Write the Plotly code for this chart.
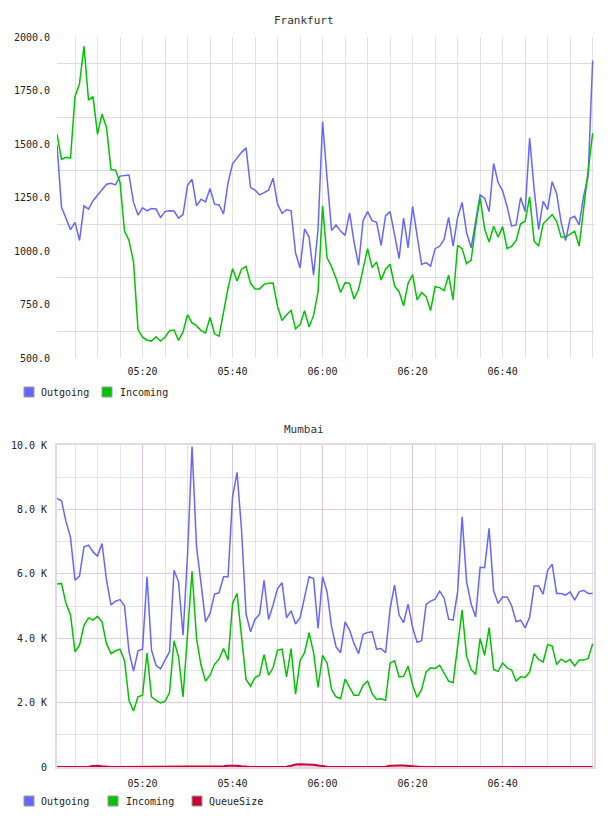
import pandas as pd
import plotly.graph_objects as go

# ---------------- data ----------------
DAY = "2013-01-01"
START = DAY + " 05:01:00"
N_POINTS = 120
times = pd.date_range(START, periods=N_POINTS, freq="1min")
time_tick_labels = ["05:20", "05:40", "06:00", "06:20", "06:40"]

fra_outgoing = [
    1497, 1204, 1153, 1100, 1134, 1049, 1211, 1196, 1235, 1261,
    1284, 1312, 1316, 1309, 1350, 1353, 1355, 1227, 1168, 1202,
    1188, 1199, 1196, 1157, 1184, 1188, 1187, 1154, 1170, 1307,
    1335, 1211, 1242, 1230, 1292, 1219, 1215, 1173, 1320, 1407,
    1435, 1461, 1482, 1296, 1284, 1262, 1273, 1284, 1340, 1219,
    1176, 1193, 1188, 991, 921, 1103, 1065, 887, 1103, 1605,
    1340, 1096, 1122, 1093, 1073, 1178, 1042, 934, 1142, 1184,
    1142, 1134, 1026, 1165, 1184, 1073, 965, 1154, 1015, 1208,
    1073, 937, 946, 929, 1011, 1022, 1054, 1157, 1023, 1157,
    1227, 1085, 1015, 1142, 1262, 1247, 1184, 1409, 1320, 1281,
    1207, 1116, 1122, 1250, 1184, 1528, 1289, 1100, 1232, 1193,
    1324, 1269, 1134, 1049, 1153, 1162, 1122, 1258, 1350, 1890,
]
fra_incoming = [
    1546, 1428, 1438, 1434, 1721, 1782, 1957, 1705, 1721, 1546,
    1640, 1577, 1381, 1378, 1320, 1093, 1049, 949, 633, 597,
    583, 579, 599, 579, 597, 628, 631, 582, 622, 702,
    664, 651, 628, 617, 690, 613, 602, 718, 826, 918,
    860, 915, 928, 849, 823, 823, 844, 849, 850, 741,
    675, 702, 722, 636, 656, 721, 645, 699, 810, 1211,
    968, 926, 872, 806, 852, 849, 776, 821, 911, 1011,
    923, 949, 864, 915, 938, 836, 810, 744, 849, 890,
    772, 806, 787, 722, 833, 829, 815, 887, 772, 1026,
    1011, 941, 957, 1119, 1250, 1103, 1042, 1116, 1065, 1114,
    1011, 1022, 1049, 1127, 1139, 1253, 1046, 1023, 1127, 1147,
    1170, 1139, 1065, 1065, 1077, 1093, 1023, 1196, 1381, 1551,
]

# Mumbai values in thousands
mum_outgoing_k = [
    8.34, 8.27, 7.62, 7.13, 5.80, 5.93, 6.84, 6.89, 6.68, 6.55,
    6.94, 5.80, 5.03, 5.15, 5.20, 5.01, 3.58, 2.98, 3.61, 3.66,
    5.91, 3.63, 3.16, 3.05, 3.32, 3.58, 6.11, 5.75, 4.09, 6.60,
    9.95, 6.84, 5.70, 4.51, 4.77, 5.37, 5.41, 5.91, 5.91, 8.39,
    9.15, 7.36, 4.75, 4.20, 4.59, 4.74, 5.80, 4.58, 5.03, 5.54,
    5.72, 4.63, 4.85, 4.44, 4.63, 5.28, 5.91, 5.85, 4.30, 5.91,
    5.44, 4.35, 3.73, 3.55, 4.51, 4.25, 3.83, 3.52, 4.12, 4.18,
    4.20, 3.66, 3.68, 3.55, 4.92, 5.65, 4.72, 4.48, 5.06, 4.33,
    3.87, 3.92, 5.05, 5.15, 5.21, 5.46, 5.25, 4.59, 4.56, 5.44,
    7.77, 5.75, 5.06, 4.66, 6.20, 6.19, 7.41, 5.47, 5.08, 5.28,
    5.28, 5.01, 4.51, 4.56, 4.32, 4.66, 5.62, 5.62, 5.37, 6.11,
    6.30, 5.39, 5.39, 5.34, 5.44, 5.18, 5.44, 5.49, 5.39, 5.39,
]
mum_incoming_k = [
    5.68, 5.70, 5.08, 4.72, 3.58, 3.78, 4.40, 4.63, 4.56, 4.68,
    4.51, 3.83, 3.52, 3.61, 3.66, 3.30, 2.07, 1.74, 2.18, 2.23,
    3.54, 2.18, 2.07, 1.99, 2.04, 2.31, 3.92, 3.42, 2.18, 4.20,
    6.08, 3.99, 3.16, 2.67, 2.85, 3.19, 3.35, 3.68, 3.32, 5.08,
    5.39, 4.04, 2.72, 2.51, 2.78, 2.85, 3.49, 2.85, 3.08, 3.63,
    3.66, 2.80, 3.68, 2.26, 3.30, 3.55, 4.17, 3.55, 2.47, 3.47,
    3.23, 2.40, 2.18, 2.12, 2.73, 2.47, 2.23, 2.23, 2.54, 2.67,
    2.28, 2.10, 2.12, 2.07, 3.23, 3.30, 2.80, 2.82, 3.13, 2.54,
    2.16, 2.40, 2.95, 3.08, 3.06, 3.16, 2.90, 2.67, 2.62, 3.73,
    4.87, 3.44, 3.03, 2.87, 3.99, 3.47, 4.33, 3.03, 2.97, 3.23,
    3.08, 3.01, 2.67, 2.80, 2.78, 2.95, 3.52, 3.34, 3.26, 3.80,
    3.76, 3.18, 3.35, 3.26, 3.34, 3.14, 3.32, 3.32, 3.37, 3.83,
]
mum_queue = [
    0, 0, 0, 0, 0, 0, 0, 10, 30, 40,
    20, 0, 0, 0, 0, 0, 0, 0, 0, 0,
    0, 0, 10, 0, 0, 0, 0, 0, 0, 0,
    15, 20, 10, 0, 0, 0, 0, 20, 35, 40,
    35, 20, 0, 0, 0, 0, 0, 0, 0, 0,
    0, 10, 40, 75, 85, 85, 80, 70, 50, 25,
    10, 0, 0, 0, 0, 0, 0, 0, 0, 15,
    0, 0, 0, 10, 40, 50, 50, 45, 30, 10,
    0, 0, 0, 0, 0, 0, 0, 0, 0, 0,
    0, 0, 0, 0, 20, 10, 0, 0, 0, 0,
    0, 0, 0, 0, 0, 0, 0, 0, 0, 0,
    0, 0, 0, 0, 0, 0, 0, 0, 0, 0,
]
mum_outgoing = [v * 1000 for v in mum_outgoing_k]
mum_incoming = [v * 1000 for v in mum_incoming_k]

fra_ticks = [500, 750, 1000, 1250, 1500, 1750, 2000]
fra_ticktext = ["500.0", "750.0", "1000.0", "1250.0", "1500.0", "1750.0", "2000.0"]
fra_minor = [625, 875, 1125, 1375, 1625, 1875]
mum_ticks = [0, 2000, 4000, 6000, 8000, 10000]
mum_ticktext = ["0", "2.0 K", "4.0 K", "6.0 K", "8.0 K", "10.0 K"]
mum_minor = [1000, 3000, 5000, 7000, 9000]

# ---------------- style ----------------
W, H = 608, 816
C_OUT = "#6666ff"
C_IN = "#00c400"
C_Q = "#cc0033"
FONT = "DejaVu Sans Mono"

def py(y):
    return 1 - y / H

def px(x):
    return x / W

x_dom = [px(57), px(594)]
x_range = [pd.Timestamp(START), pd.Timestamp(START) + pd.Timedelta(minutes=119.3)]
time_tickvals = [pd.Timestamp(DAY + " " + t) for t in time_tick_labels]

fig = go.Figure()
fig.add_trace(go.Scatter(x=times, y=fra_outgoing, mode="lines", name="Outgoing",
                         line=dict(color=C_OUT, width=1.5), xaxis="x", yaxis="y", showlegend=False))
fig.add_trace(go.Scatter(x=times, y=fra_incoming, mode="lines", name="Incoming",
                         line=dict(color=C_IN, width=1.5), xaxis="x", yaxis="y", showlegend=False))
fig.add_trace(go.Scatter(x=times, y=mum_outgoing, mode="lines", name="Outgoing",
                         line=dict(color=C_OUT, width=1.5), xaxis="x2", yaxis="y2", showlegend=False))
fig.add_trace(go.Scatter(x=times, y=mum_incoming, mode="lines", name="Incoming",
                         line=dict(color=C_IN, width=1.5), xaxis="x2", yaxis="y2", showlegend=False))
fig.add_trace(go.Scatter(x=times, y=mum_queue, mode="lines", name="QueueSize",
                         line=dict(color=C_Q, width=2), fill="tozeroy",
                         fillcolor="rgba(204,0,51,0.15)", xaxis="x2", yaxis="y2", showlegend=False))

tickfont = dict(family=FONT, size=10, color="#222")
common_x = dict(
    type="date", domain=x_dom, range=x_range,
    tickmode="array", tickvals=time_tickvals, ticktext=time_tick_labels,
    ticks="", tickfont=tickfont,
    showgrid=True, zeroline=False, automargin=False, ticklabelstandoff=6,
    fixedrange=True,
)
minor_x = dict(tickmode="linear", tick0=DAY + " 05:00:00", dtick=5 * 60 * 1000,
               showgrid=True, gridwidth=1)
fig.update_layout(
    width=W, height=H, margin=dict(l=0, r=0, t=0, b=0),
    paper_bgcolor="white", plot_bgcolor="white",
    xaxis=dict(**common_x, anchor="y", gridcolor="#e3e3e3",
               minor=dict(**minor_x, gridcolor="#e3e3e3")),
    yaxis=dict(domain=[py(358), py(37)], range=[500, 2000], tickvals=fra_ticks,
               ticktext=fra_ticktext, tickfont=tickfont, showgrid=False, zeroline=False,
               ticks="", automargin=False, ticklabelstandoff=6,
               minor=dict(tickvals=fra_minor, showgrid=True, gridcolor="#dcdcdc", gridwidth=1)),
    xaxis2=dict(**common_x, anchor="y2", gridcolor="#dcc4dc",
                showline=True, mirror=True, linecolor="#e6d6ea", linewidth=2,
                minor=dict(**minor_x, gridcolor="#e8e2ea")),
    yaxis2=dict(domain=[py(767), py(445)], range=[0, 10000], tickvals=mum_ticks,
                ticktext=mum_ticktext, tickfont=tickfont, showgrid=True, gridcolor="#e0cce2",
                zeroline=False, ticks="", automargin=False, ticklabelstandoff=6,
                showline=True, mirror=True, linecolor="#e6d6ea", linewidth=2,
                minor=dict(tickvals=mum_minor, showgrid=True, gridcolor="#e8e2ea", gridwidth=1)),
)

annotations = [
    dict(text="Frankfurt", x=0.5, y=py(20), xref="paper", yref="paper", showarrow=False,
         xanchor="center", yanchor="middle", font=dict(family=FONT, size=11, color="#333")),
    dict(text="Mumbai", x=0.5, y=py(429), xref="paper", yref="paper", showarrow=False,
         xanchor="center", yanchor="middle", font=dict(family=FONT, size=11, color="#333")),
]
shapes = []
legend_items = [
    (392, [(24, 39, "Outgoing", C_OUT), (102, 118, "Incoming", C_IN)]),
    (801, [(24, 39, "Outgoing", C_OUT), (108, 124, "Incoming", C_IN), (192, 207, "QueueSize", C_Q)]),
]
for yc, items in legend_items:
    for sx, tx, label, col in items:
        shapes.append(dict(type="rect", xref="paper", yref="paper",
                           x0=px(sx), x1=px(sx + 10), y0=py(yc + 5), y1=py(yc - 5),
                           fillcolor=col, line=dict(color="#999", width=1)))
        annotations.append(dict(text=label, x=px(tx), y=py(yc), xref="paper", yref="paper",
                                showarrow=False, xanchor="left", yanchor="middle",
                                font=dict(family=FONT, size=10, color="#222")))
fig.update_layout(annotations=annotations, shapes=shapes)

fig.write_html("out.html")
